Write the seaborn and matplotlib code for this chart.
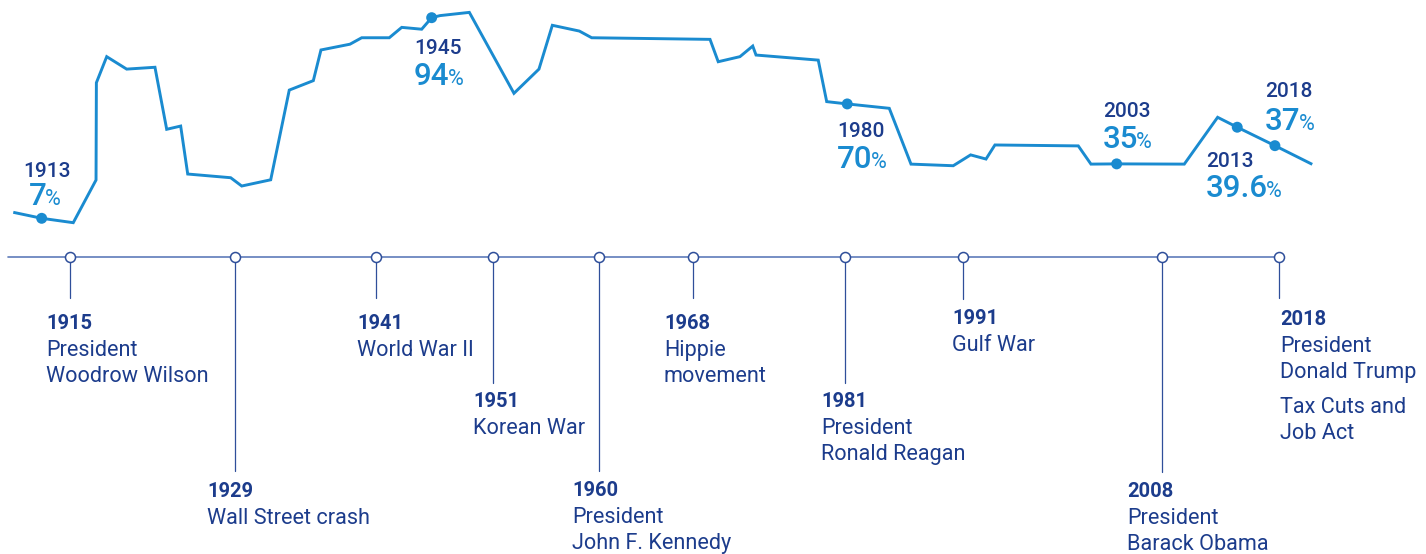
import numpy as np
import pandas as pd
import matplotlib
matplotlib.use("Agg")
import matplotlib.pyplot as plt
import seaborn as sns

# ---------------- data ----------------
# top marginal income-tax rate line (stylised)
rate_year = [1910.14, 1912.56, 1915.25, 1917.19, 1917.22, 1918.10, 1919.80, 1922.21,
             1923.21, 1924.40, 1925.00, 1928.66, 1929.60, 1932.07, 1933.65, 1935.70,
             1936.35, 1938.82, 1939.82, 1942.17, 1943.23, 1944.93, 1945.78, 1946.49,
             1948.99, 1952.79, 1954.92, 1956.06, 1958.36, 1959.41, 1969.49, 1970.19,
             1972.04, 1973.13, 1973.41, 1978.71, 1979.43, 1981.18, 1984.76, 1986.61,
             1990.21, 1991.69, 1993.00, 1993.76, 2000.86, 2001.94, 2004.13, 2009.89,
             2012.73, 2014.40, 2017.61, 2020.79]
rate_value = [9.6, 7.0, 5.1, 23.6, 65.8, 77.1, 71.7, 72.5, 45.6, 47.0, 26.2, 24.6,
              21.0, 23.7, 62.6, 66.7, 80.0, 82.5, 85.3, 85.3, 89.8, 89.0, 94.0, 94.9,
              96.3, 61.2, 71.7, 90.7, 88.2, 85.3, 84.6, 74.9, 77.1, 81.7, 77.8, 75.6,
              57.6, 56.6, 54.7, 30.5, 29.8, 34.5, 32.7, 38.8, 38.4, 30.5, 30.6, 30.5,
              50.8, 46.5, 38.5, 30.4]

# highlighted points on the line
dot_year = [1912.56, 1945.78, 1981.18, 2004.13, 2014.40, 2017.61]
dot_value = [7.0, 94.0, 56.6, 30.6, 46.5, 38.5]
dot_year_label = ["1913", "1945", "1980", "2003", "2013", "2018"]
dot_pct_label = ["7", "94", "70", "35", "39.6", "37"]

# timeline events
event_year = [1915, 1929, 1941, 1951, 1960, 1968, 1981, 1991, 2008, 2018]
event_label = ["1915", "1929", "1941", "1951", "1960", "1968", "1981", "1991", "2008", "2018"]
event_desc = [
    ["President", "Woodrow Wilson"],
    ["Wall Street crash"],
    ["World War II"],
    ["Korean War"],
    ["President", "John F. Kennedy"],
    ["Hippie", "movement"],
    ["President", "Ronald Reagan"],
    ["Gulf War"],
    ["President", "Barack Obama"],
    ["President", "Donald Trump", "", "Tax Cuts and", "Job Act"],
]

# ---------------- layout / style ----------------
W, H = 1426, 554
LINE_BLUE = "#1a8bd0"
NAVY = "#1c3c8c"
TL_LINE = "#5f7cba"
STEM = "#2f4f9a"

# pixel layout of the top annotations: (year-label left x, year baseline, pct baseline)
top_pos = [(23, 177, 205), (414, 54, 85), (837, 137, 168),
           (1103, 117, 148), (1206, 167, 197), (1265, 97, 130)]
pct_left = [29, 414, 837, 1103, 1206, 1265]
# timeline text: (left x, year baseline, stem end y)
tl_pos = [(46, 329, 298), (207, 497, 471), (357, 329, 298), (473, 407, 383),
          (572, 496, 471), (664, 329, 298), (821, 407, 383), (952, 324, 299),
          (1127, 497, 472), (1280, 325, 298)]
TL_Y = 257
LINE_PITCH = 26.0

sns.set_theme(style="white")
plt.rcParams["font.family"] = ["Roboto", "DejaVu Sans"]

fig = plt.figure(figsize=(W / 100, H / 100), dpi=100)
fig.patch.set_facecolor("white")
ax = fig.add_axes([0, 0, 1, 1])
ax_tl = fig.add_axes([0, 0, 1, 1], sharex=ax)
ax_tl.patch.set_alpha(0)

XLIM = (1909.01, 2030.48)
ax.set_xlim(*XLIM)
ax.set_ylim(-138.58, 101.67)
ax_tl.set_ylim(H, 0)


def px2year(px):
    return XLIM[0] + px / W * (XLIM[1] - XLIM[0])


# ---- line chart ----
df = pd.DataFrame({"year": rate_year, "rate": rate_value})
sns.lineplot(data=df, x="year", y="rate", ax=ax, color=LINE_BLUE, linewidth=2.1,
             sort=False, estimator=None)
for ln in ax.lines:
    ln.set_solid_joinstyle("miter")
    ln.set_solid_capstyle("butt")
sns.scatterplot(x=dot_year, y=dot_value, ax=ax, s=62, color=LINE_BLUE,
                edgecolor="none", zorder=4)

for i, (yl, pl) in enumerate(zip(dot_year_label, dot_pct_label)):
    lx, yb, pb = top_pos[i]
    ax_tl.text(px2year(lx), yb, yl, fontsize=15, color=NAVY, fontweight="medium",
               ha="left", va="baseline")
    t = ax_tl.text(px2year(pct_left[i]), pb, pl, fontsize=22.5, color=LINE_BLUE,
                   fontweight="medium", ha="left", va="baseline")
    ax_tl.annotate("%", xy=(1, pb), xycoords=(t, "data"), xytext=(-1.5, 0),
                   textcoords="offset points", fontsize=15.5, color=LINE_BLUE,
                   ha="left", va="baseline")

# ---- timeline ----
ax_tl.plot([px2year(8), event_year[-1]], [TL_Y, TL_Y], color=TL_LINE, lw=1.2, zorder=1)
for ev, (lx, yb, stem_end) in zip(event_year, tl_pos):
    ax_tl.plot([ev, ev], [TL_Y, stem_end], color=STEM, lw=0.9, zorder=1)
sns.scatterplot(x=event_year, y=[TL_Y] * len(event_year), ax=ax_tl, s=52,
                color="white", edgecolor=STEM, linewidth=1.1, zorder=5)

for lab, desc, (lx, yb, stem_end) in zip(event_label, event_desc, tl_pos):
    x = px2year(lx)
    ax_tl.text(x, yb, lab, fontsize=14.5, color=NAVY, fontweight="semibold",
               ha="left", va="baseline")
    y = yb + 27
    for line in desc:
        if line == "":
            y += 9
            continue
        ax_tl.text(x, y, line, fontsize=15.6, color=NAVY, ha="left", va="baseline")
        y += LINE_PITCH

for a in (ax, ax_tl):
    a.set_axis_off()

fig.savefig("out.png", dpi=100, facecolor="white")
